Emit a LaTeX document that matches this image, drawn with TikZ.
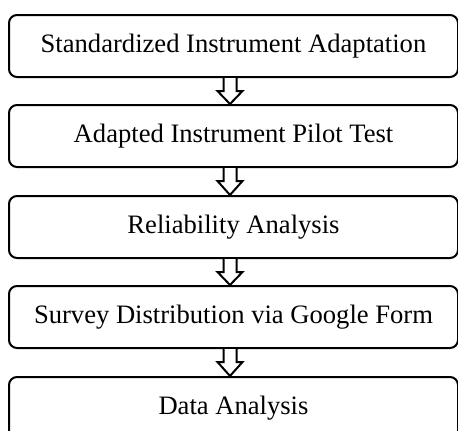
\documentclass[tikz,border=0pt]{standalone}
\usepackage{fontspec}
\setmainfont{Liberation Serif}
\usetikzlibrary{calc}
\tikzset{
  stepbox/.style={draw=black, line width=2pt, rounded corners=8pt, minimum width=449pt, minimum height=62pt, inner sep=0pt, font=\fontsize{26.6}{30}\selectfont, anchor=north west},
  fatarrow/.style={draw=black, fill=white, line width=2pt, line join=miter}
}
\begin{document}
\begin{tikzpicture}[x=1pt,y=1pt]
\useasboundingbox (0,0) rectangle (458,-431);
\node[stepbox] (a) at (8,-14) {Standardized Instrument Adaptation};
\node[stepbox] (b) at (8,-104) {Adapted Instrument Pilot Test};
\node[stepbox] (c) at (8,-195) {Reliability Analysis};
\node[stepbox] (d) at (8,-285) {Survey Distribution via Google Form};
\node[stepbox] (e) at (8,-376) {Data Analysis};
\foreach \u/\v in {a/b,b/c,c/d,d/e}{
  \draw[fatarrow] ($(\u.south)+(-10,0)$) -- ($(\u.south)+(-10,-13)$) -- ($(\u.south)+(-16,-13)$) -- ($(\v.north)+(-3.5,0)$) -- ($(\u.south)+(9,-13)$) -- ($(\u.south)+(3,-13)$) -- ($(\u.south)+(3,0)$);
}
\end{tikzpicture}
\end{document}
